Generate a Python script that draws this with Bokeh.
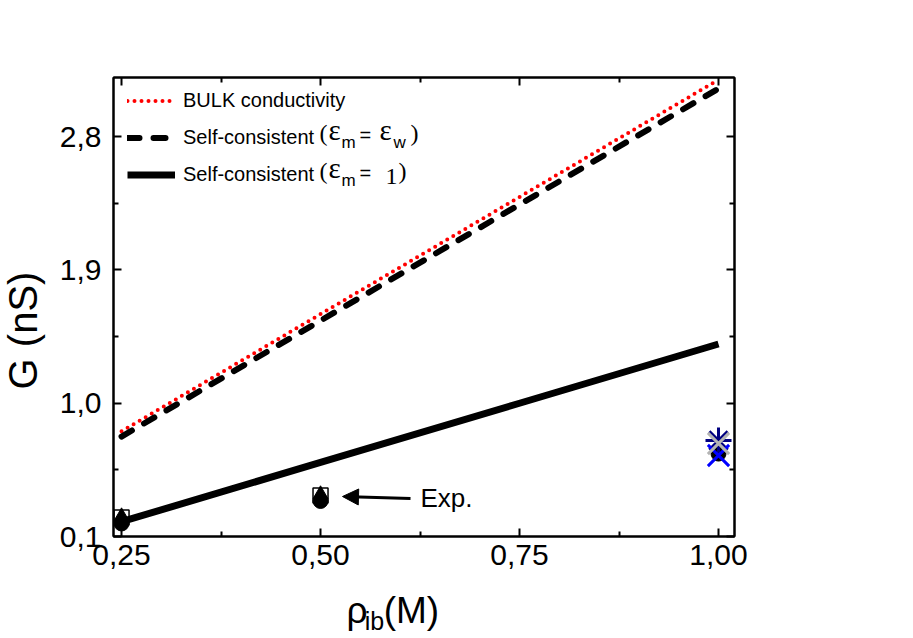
import math
from bokeh.plotting import figure
from bokeh.layouts import row, column
from bokeh.models import (Range1d, LinearAxis, FixedTicker, CustomJSTickFormatter,
                          Legend, LegendItem, Label, Arrow, NormalHead)
from bokeh.embed import file_html
from bokeh.resources import INLINE

# ---------------- data ----------------
conc = [0.25, 0.50, 0.75, 1.00]
g_bulk = [0.81, 1.602, 2.393, 3.185]
g_sc_eps_w = [0.775, 1.558, 2.342, 3.125]
g_sc_eps_1 = [0.20, 0.60, 1.00, 1.40]

exp_circle_x = [0.25, 0.50, 1.00]
exp_circle_g = [0.188, 0.340, 0.660]
exp_triangle_x = [0.25, 0.50]
exp_triangle_g = [0.235, 0.384]
exp_square_x = [0.25, 0.50]
exp_square_g = [0.228, 0.377]
exp_bluex_x = [1.00]
exp_bluex_g = [0.647]
exp_grayx_x = [1.00]
exp_grayx_g = [0.728]
exp_star_x = [1.00]
exp_star_g = [0.748]

x_ticks = [0.25, 0.50, 0.75, 1.00]
x_minor = [0.375, 0.625, 0.875]
y_ticks = [0.1, 1.0, 1.9, 2.8]
y_minor = [0.55, 1.45, 2.35]

# ---------------- layout (page pixels) ----------------
X_START, X_END = 0.2399, 1.0201
Y_START, Y_END = 0.1, 3.2
YL_W = 52                    # strip holding the y title
W, H = 900 - YL_W, 586       # main figure
XL_H = 50                    # strip holding the x title
FL, FR, FT, FB = 113, 734, 77, 536   # frame edges on the page
ML, MR, MT, MB = FL - YL_W, YL_W + W - FR, FT, H - FB
FW = FR - FL
FH = FB - FT


def dx(px):
    return X_START + (px - FL) / FW * (X_END - X_START)


def dy(py):
    return Y_START + (FB - py) / FH * (Y_END - Y_START)


SANS = "Liberation Sans"
SERIF = "Liberation Serif"

p = figure(width=W, height=H, x_range=Range1d(X_START, X_END),
           y_range=Range1d(Y_START, Y_END), output_backend="svg",
           toolbar_location=None, min_border_left=ML, min_border_right=MR,
           min_border_top=MT, min_border_bottom=MB)
p.grid.visible = False
p.outline_line_color = "black"
p.outline_line_width = 2
p.background_fill_color = "white"
p.border_fill_color = "white"


def style_axis(ax):
    ax.axis_line_width = 2
    ax.axis_line_color = "black"
    ax.major_tick_in = 8
    ax.major_tick_out = 0
    ax.minor_tick_in = 5
    ax.minor_tick_out = 0
    ax.major_tick_line_width = 2
    ax.minor_tick_line_width = 2
    ax.major_tick_line_color = "black"
    ax.minor_tick_line_color = "black"
    ax.major_label_text_font = SANS
    ax.major_label_text_font_size = "30px"
    ax.major_label_text_color = "black"


xa = p.xaxis[0]
xa.ticker = FixedTicker(ticks=x_ticks, minor_ticks=x_minor)
xa.formatter = CustomJSTickFormatter(code="return tick.toFixed(2).replace('.', ',');")
style_axis(xa)
xa.major_label_standoff = 8

ya = p.yaxis[0]
ya.ticker = FixedTicker(ticks=y_ticks, minor_ticks=y_minor)
ya.formatter = CustomJSTickFormatter(code="return tick.toFixed(1).replace('.', ',');")
style_axis(ya)
ya.major_label_standoff = 12

top = LinearAxis(ticker=FixedTicker(ticks=x_ticks, minor_ticks=x_minor),
                 formatter=CustomJSTickFormatter(code="return '';"))
style_axis(top)
top.major_label_text_font_size = "1px"
p.add_layout(top, "above")

right = LinearAxis(ticker=FixedTicker(ticks=y_ticks, minor_ticks=y_minor),
                   formatter=CustomJSTickFormatter(code="return '';"))
style_axis(right)
right.major_label_text_font_size = "1px"
p.add_layout(right, "right")

# ---------------- lines ----------------
r_bulk = p.line(conc, g_bulk, line_color="#ff0000", line_width=4,
                line_dash="0 7", line_cap="round")
r_w = p.line(conc, g_sc_eps_w, line_color="black", line_width=6,
             line_dash="12 14", line_cap="round")
r_1 = p.line(conc, g_sc_eps_1, line_color="black", line_width=7)

# ---------------- experimental points ----------------
p.scatter(exp_square_x, exp_square_g, marker="square", size=15,
          fill_color=None, line_color="black", line_width=1.5)
p.scatter(exp_circle_x, exp_circle_g, marker="circle", size=15,
          fill_color="black", line_color="black")
p.scatter(exp_triangle_x, exp_triangle_g, marker="triangle", size=15,
          fill_color="black", line_color="black")
p.scatter(exp_star_x, exp_star_g, marker="asterisk", size=26,
          line_color="#000080", line_width=3)
p.scatter(exp_bluex_x, exp_bluex_g, marker="x", size=30,
          line_color="#0000ff", line_width=3)
p.scatter(exp_grayx_x, exp_grayx_g, marker="x", size=30,
          line_color="#b4b4b4", line_width=3)

# ---------------- legend ----------------
legend = Legend(items=[LegendItem(label="BULK conductivity", renderers=[r_bulk]),
                       LegendItem(label="Self-consistent", renderers=[r_w]),
                       LegendItem(label="Self-consistent", renderers=[r_1])],
                location=(14, FH - 5 - 111), orientation="vertical",
                label_text_font=SANS, label_text_font_size="20px",
                label_text_color="black",
                glyph_width=48, glyph_height=37, label_height=37, spacing=0,
                padding=0, margin=0, label_standoff=8,
                border_line_color=None, background_fill_alpha=0)
p.add_layout(legend)


def lab(text, px, py, font, size, **kw):
    p.add_layout(Label(text=text, x=dx(px), y=dy(py), text_font=font,
                       text_font_size=size, text_color="black", **kw))


# legend math parts
for base, last in ((145, "w"), (183, "1")):
    lab("(", 319, base, SERIF, "24px")
    lab("\u03b5", 328, base, SERIF, "29px")
    lab("m", 341, base + 6, SANS, "17px")
    lab("=", 359, base, SANS, "20px")
    if last == "w":
        lab("\u03b5", 379, base, SERIF, "29px")
        lab("w", 393, base + 6, SANS, "17px")
        lab(")", 410, base, SERIF, "24px")
    else:
        lab("1", 385, base, SERIF, "24px")
        lab(")", 398, base, SERIF, "24px")

# Exp. annotation
p.add_layout(Arrow(end=NormalHead(size=16, fill_color="black", line_color="black"),
                   x_start=dx(410), y_start=dy(498), x_end=dx(342), y_end=dy(496),
                   line_width=3, line_color="black"))
lab("Exp.", 420, 512, SANS, "26px")

# ---------------- axis titles (own strips, page-pixel coordinates) ----------------
py_strip = figure(width=YL_W, height=H + XL_H, x_range=Range1d(0, YL_W),
                  y_range=Range1d(H + XL_H, 0), x_axis_type=None, y_axis_type=None,
                  output_backend="svg", toolbar_location=None, min_border=0,
                  outline_line_color=None)
py_strip.add_layout(Label(text="G (nS)", x=22, y=330, angle=math.pi / 2,
                          text_align="center", text_baseline="middle",
                          text_font=SANS, text_font_size="40px", text_color="black"))

px_strip = figure(width=W, height=XL_H, x_range=Range1d(YL_W, YL_W + W),
                  y_range=Range1d(H + XL_H, H), x_axis_type=None, y_axis_type=None,
                  output_backend="svg", toolbar_location=None, min_border=0,
                  outline_line_color=None)
for t, x, y, s in (("\u03c1", 370, 630, "37px"), ("ib", 395, 634, "25px"),
                   ("(M)", 421, 630, "37px")):
    px_strip.add_layout(Label(text=t, x=x, y=y, text_font=SANS, text_font_size=s,
                              text_color="black"))

layout = row(py_strip, column(p, px_strip, spacing=0), spacing=0)

open("out.html", "w").write(file_html(layout, INLINE))
